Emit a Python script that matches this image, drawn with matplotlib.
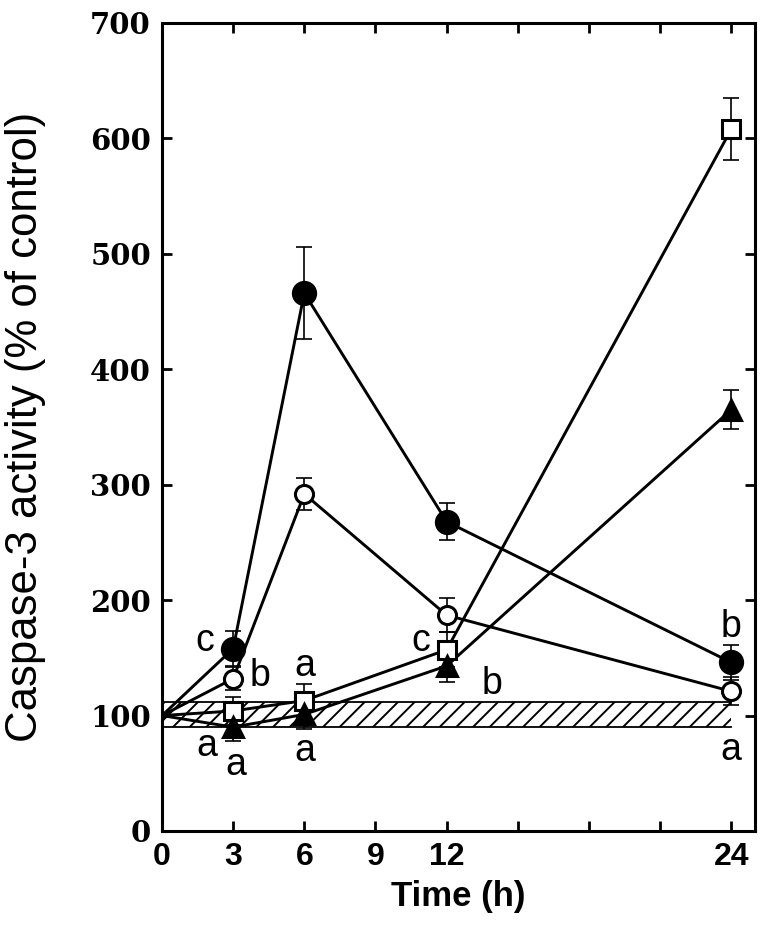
import matplotlib
matplotlib.use("Agg")
import matplotlib.pyplot as plt

time_h = [0, 3, 6, 12, 24]
filled_circle = [100, 158, 466, 268, 146]
filled_circle_err = [0, 15, 40, 16, 15]
open_circle = [100, 132, 292, 187, 121]
open_circle_err = [0, 10, 14, 15, 12]
open_square = [100, 104, 113, 157, 608]
open_square_err = [0, 12, 14, 15, 27]
filled_triangle = [100, 90, 101, 143, 365]
filled_triangle_err = [0, 12, 13, 14, 17]

band_low, band_high = 90, 112
xtick_vals = [0, 3, 6, 9, 12, 24]
xtick_minor = [15, 18, 21]
ytick_vals = [0, 100, 200, 300, 400, 500, 600, 700]

letters = [
    ("c", 1.8, 165), ("b", 4.15, 134), ("a", 1.9, 74), ("a", 3.1, 57),
    ("a", 6.0, 143), ("a", 6.0, 69), ("c", 10.9, 165), ("b", 13.9, 127),
    ("b", 24.0, 177), ("a", 24.0, 70),
]

plt.rcParams['hatch.linewidth'] = 1.4
fig = plt.figure(figsize=(7.66, 9.39), dpi=100)
ax = fig.add_axes([162/766, 1-831/939, 593/766, 808/939])

ax.fill_between([0, 24], band_low, band_high, facecolor='none', edgecolor='black',
                hatch='//', linewidth=0, zorder=1)
ax.plot([0, 24], [band_low, band_low], color='black', lw=1.3, zorder=1)
ax.plot([0, 24], [band_high, band_high], color='black', lw=1.3, zorder=1)

series = [
    (filled_circle, filled_circle_err, 'o', 'black', 16),
    (open_circle, open_circle_err, 'o', 'white', 13),
    (open_square, open_square_err, 's', 'white', 13),
    (filled_triangle, filled_triangle_err, '^', 'black', 15),
]
for y, e, m, fc, ms in series:
    ax.plot(time_h, y, color='black', lw=2.1, zorder=2)
    ax.errorbar(time_h[1:], y[1:], yerr=e[1:], fmt='none', ecolor='black',
                elinewidth=1.2, capsize=6, capthick=1.2, zorder=3)
    ax.plot(time_h[1:], y[1:], linestyle='none', marker=m, markersize=ms,
            markerfacecolor=fc, markeredgecolor='black', markeredgewidth=2.2, zorder=4)

for t, x, y in letters:
    ax.text(x, y, t, fontsize=27, family='Liberation Sans', ha='center', va='center', zorder=5)

ax.set_xlim(0, 25)
ax.set_ylim(0, 700)
ax.set_xticks(xtick_vals)
ax.set_xticks(xtick_minor, minor=True)
ax.set_yticks(ytick_vals)
ax.tick_params(axis='both', which='both', direction='in', length=7, width=2,
               top=True, right=True)
ax.tick_params(axis='x', which='major', pad=8)
ax.tick_params(axis='y', which='major', pad=8)
for lab in ax.get_xticklabels():
    lab.set_fontfamily('Liberation Sans')
    lab.set_fontweight('bold')
    lab.set_fontsize(23)
for lab in ax.get_yticklabels():
    lab.set_fontfamily('DejaVu Serif')
    lab.set_fontweight('bold')
    lab.set_fontsize(21)
for s in ax.spines.values():
    s.set_linewidth(2.2)

ax.set_xlabel('Time (h)', fontsize=25, fontweight='bold',
              family='Liberation Sans', labelpad=6)
ax.set_ylabel('Caspase-3 activity (% of control)', fontsize=31.5,
              family='Liberation Sans')
ax.yaxis.set_label_coords(-(162-46)/593, 0.5)

fig.savefig('out.png', dpi=100)
